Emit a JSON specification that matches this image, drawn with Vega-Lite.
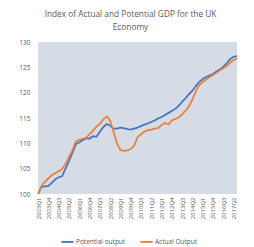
{
  "$schema": "https://vega.github.io/schema/vega-lite/v6.json",
  "autosize": {"type": "none"},
  "width": 199,
  "height": 152,
  "padding": {"left": 38, "top": 42, "right": 17, "bottom": 53},
  "background": "white",
  "view": {"fill": "#d6dce5", "stroke": null},
  "title": {
    "text": ["Index of Actual and Potential GDP for the UK", "Economy"],
    "font": "Open Sans",
    "fontSize": 8.3,
    "fontWeight": "normal",
    "color": "#595959",
    "anchor": "middle",
    "dx": -7,
    "offset": 8,
    "lineHeight": 13
  },
  "data": {
    "values": [
      {"q": "2003Q1", "Potential output": 100.0, "Actual Output": 100.0},
      {"q": "2003Q2", "Potential output": 101.4, "Actual Output": 101.6},
      {"q": "2003Q3", "Potential output": 101.5, "Actual Output": 102.4},
      {"q": "2003Q4", "Potential output": 101.6, "Actual Output": 103.1},
      {"q": "2004Q1", "Potential output": 102.2, "Actual Output": 103.7},
      {"q": "2004Q2", "Potential output": 102.9, "Actual Output": 104.1},
      {"q": "2004Q3", "Potential output": 103.3, "Actual Output": 104.5},
      {"q": "2004Q4", "Potential output": 103.5, "Actual Output": 104.9},
      {"q": "2005Q1", "Potential output": 105.0, "Actual Output": 105.9},
      {"q": "2005Q2", "Potential output": 106.5, "Actual Output": 107.3},
      {"q": "2005Q3", "Potential output": 108.1, "Actual Output": 108.6},
      {"q": "2005Q4", "Potential output": 109.8, "Actual Output": 110.4},
      {"q": "2006Q1", "Potential output": 110.2, "Actual Output": 110.7},
      {"q": "2006Q2", "Potential output": 110.6, "Actual Output": 110.9},
      {"q": "2006Q3", "Potential output": 111.0, "Actual Output": 111.1},
      {"q": "2006Q4", "Potential output": 110.9, "Actual Output": 111.8},
      {"q": "2007Q1", "Potential output": 111.4, "Actual Output": 112.5},
      {"q": "2007Q2", "Potential output": 111.3, "Actual Output": 113.3},
      {"q": "2007Q3", "Potential output": 112.3, "Actual Output": 113.8},
      {"q": "2007Q4", "Potential output": 113.2, "Actual Output": 114.7},
      {"q": "2008Q1", "Potential output": 113.8, "Actual Output": 115.3},
      {"q": "2008Q2", "Potential output": 113.5, "Actual Output": 114.5},
      {"q": "2008Q3", "Potential output": 112.9, "Actual Output": 112.3},
      {"q": "2008Q4", "Potential output": 112.9, "Actual Output": 110.0},
      {"q": "2009Q1", "Potential output": 113.1, "Actual Output": 108.7},
      {"q": "2009Q2", "Potential output": 113.0, "Actual Output": 108.5},
      {"q": "2009Q3", "Potential output": 112.8, "Actual Output": 108.6},
      {"q": "2009Q4", "Potential output": 112.7, "Actual Output": 108.9},
      {"q": "2010Q1", "Potential output": 112.9, "Actual Output": 109.5},
      {"q": "2010Q2", "Potential output": 113.1, "Actual Output": 111.2},
      {"q": "2010Q3", "Potential output": 113.4, "Actual Output": 111.8},
      {"q": "2010Q4", "Potential output": 113.7, "Actual Output": 112.3},
      {"q": "2011Q1", "Potential output": 113.9, "Actual Output": 112.6},
      {"q": "2011Q2", "Potential output": 114.2, "Actual Output": 112.7},
      {"q": "2011Q3", "Potential output": 114.5, "Actual Output": 112.9},
      {"q": "2011Q4", "Potential output": 114.9, "Actual Output": 113.0},
      {"q": "2012Q1", "Potential output": 115.2, "Actual Output": 113.6},
      {"q": "2012Q2", "Potential output": 115.6, "Actual Output": 114.0},
      {"q": "2012Q3", "Potential output": 116.0, "Actual Output": 113.7},
      {"q": "2012Q4", "Potential output": 116.4, "Actual Output": 114.5},
      {"q": "2013Q1", "Potential output": 116.8, "Actual Output": 114.8},
      {"q": "2013Q2", "Potential output": 117.4, "Actual Output": 115.1},
      {"q": "2013Q3", "Potential output": 118.2, "Actual Output": 115.7},
      {"q": "2013Q4", "Potential output": 118.9, "Actual Output": 116.4},
      {"q": "2014Q1", "Potential output": 119.7, "Actual Output": 117.3},
      {"q": "2014Q2", "Potential output": 120.4, "Actual Output": 118.6},
      {"q": "2014Q3", "Potential output": 121.3, "Actual Output": 120.3},
      {"q": "2014Q4", "Potential output": 122.1, "Actual Output": 121.5},
      {"q": "2015Q1", "Potential output": 122.7, "Actual Output": 122.1},
      {"q": "2015Q2", "Potential output": 123.1, "Actual Output": 122.6},
      {"q": "2015Q3", "Potential output": 123.4, "Actual Output": 123.1},
      {"q": "2015Q4", "Potential output": 123.7, "Actual Output": 123.5},
      {"q": "2016Q1", "Potential output": 124.2, "Actual Output": 123.9},
      {"q": "2016Q2", "Potential output": 124.6, "Actual Output": 124.4},
      {"q": "2016Q3", "Potential output": 125.1, "Actual Output": 124.8},
      {"q": "2016Q4", "Potential output": 125.8, "Actual Output": 125.3},
      {"q": "2017Q1", "Potential output": 126.6, "Actual Output": 125.9},
      {"q": "2017Q2", "Potential output": 127.1, "Actual Output": 126.4},
      {"q": "2017Q3", "Potential output": 127.2, "Actual Output": 126.8}
    ]
  },
  "transform": [
    {"fold": ["Potential output", "Actual Output"], "as": ["series", "value"]}
  ],
  "mark": {"type": "line", "strokeWidth": 1.7, "interpolate": "linear"},
  "encoding": {
    "x": {
      "field": "q",
      "type": "ordinal",
      "scale": {"type": "point", "padding": 0.02},
      "axis": {
        "title": null,
        "values": ["2003Q1","2003Q4","2004Q3","2005Q2","2006Q1","2006Q4","2007Q3","2008Q2","2009Q1","2009Q4","2010Q3","2011Q2","2012Q1","2012Q4","2013Q3","2014Q2","2015Q1","2015Q4","2016Q3","2017Q2"],
        "labelAngle": 270,
        "labelFont": "Open Sans",
        "labelFontSize": 6,
        "labelColor": "#595959",
        "labelPadding": 3,
        "ticks": false,
        "domain": false,
        "grid": false
      }
    },
    "y": {
      "field": "value",
      "type": "quantitative",
      "scale": {"domain": [100, 130], "nice": false, "zero": false},
      "axis": {
        "title": null,
        "values": [100, 105, 110, 115, 120, 125, 130],
        "labelFont": "Open Sans",
        "labelFontSize": 6.5,
        "labelColor": "#595959",
        "labelPadding": 8,
        "ticks": false,
        "domain": false,
        "grid": false
      }
    },
    "color": {
      "field": "series",
      "type": "nominal",
      "sort": ["Potential output", "Actual Output"],
      "scale": {"domain": ["Potential output", "Actual Output"], "range": ["#4472c4", "#ed7d31"]},
      "legend": {
        "title": null,
        "orient": "none",
        "legendX": 22,
        "legendY": 192,
        "direction": "horizontal",
        "symbolType": "stroke",
        "symbolSize": 150,
        "symbolStrokeWidth": 1.8,
        "labelFont": "Open Sans",
        "labelFontSize": 6.5,
        "labelColor": "#595959",
        "columnPadding": 10,
        "labelOffset": 1
      }
    }
  }
}
